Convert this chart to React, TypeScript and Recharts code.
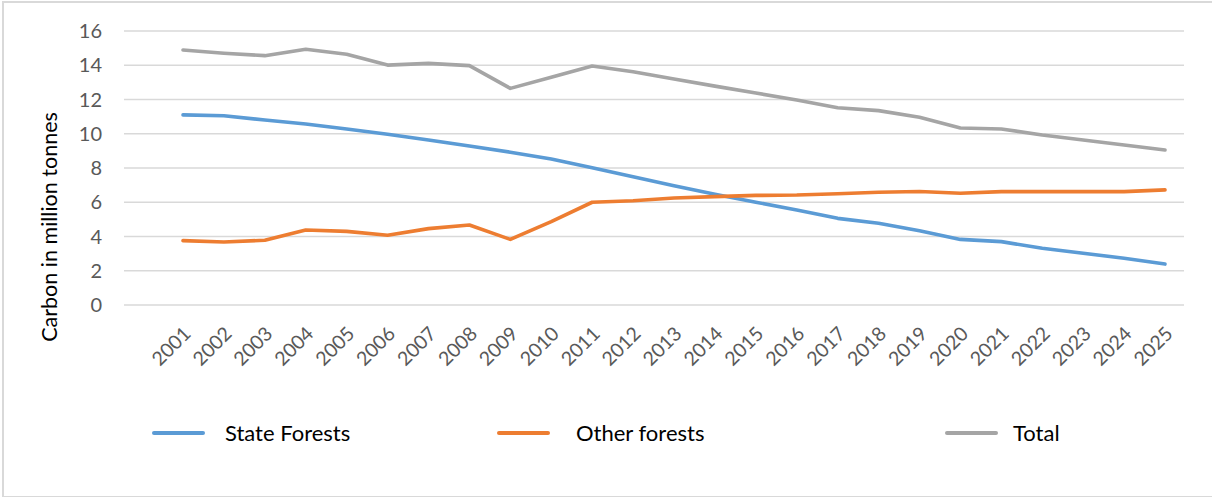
import {CartesianGrid, Line, LineChart, XAxis, YAxis} from 'recharts';

const years = [
    '2001', '2002', '2003', '2004', '2005', '2006', '2007', '2008', '2009', '2010', '2011', '2012', '2013',
    '2014', '2015', '2016', '2017', '2018', '2019', '2020', '2021', '2022', '2023', '2024', '2025',
];

const stateForests = [
    11.1, 11.05, 10.8, 10.57, 10.28, 9.97, 9.64, 9.28, 8.92, 8.53, 8.02, 7.49, 6.97,
    6.47, 6.0, 5.55, 5.06, 4.77, 4.34, 3.83, 3.7, 3.31, 3.02, 2.73, 2.39,
];

const otherForests = [
    3.76, 3.68, 3.78, 4.38, 4.3, 4.07, 4.46, 4.67, 3.83, 4.87, 6.0, 6.09, 6.25,
    6.33, 6.4, 6.42, 6.5, 6.58, 6.63, 6.53, 6.62, 6.62, 6.62, 6.62, 6.72,
];

const totals = [
    14.89, 14.7, 14.56, 14.93, 14.64, 14.01, 14.11, 13.98, 12.65, 13.3, 13.96, 13.62, 13.2,
    12.78, 12.38, 11.97, 11.52, 11.35, 10.96, 10.34, 10.28, 9.93, 9.64, 9.34, 9.05,
];

const yTicks = [0, 2, 4, 6, 8, 10, 12, 14, 16];

const seriesNames = ['State Forests', 'Other forests', 'Total'];
const seriesKeys = ['state', 'other', 'total'];
const seriesColors = ['#5B9BD5', '#ED7D31', '#A5A5A5'];

const data = years.map((year, i) => ({
    year,
    state: stateForests[i],
    other: otherForests[i],
    total: totals[i],
}));

const FONT = 'Lato, "Open Sans", sans-serif';

function YearTick({x, y, payload}: any) {
    const ax = x + 9;
    const ay = y + 30;
    return (
        <text x={ax} y={ay} textAnchor="end" fill="#595959" fontSize={19.5} fontFamily={FONT}
              transform={`rotate(-45, ${ax}, ${ay})`}>
            {payload.value}
        </text>
    );
}

// legend slots: line icon left edge and label left edge
const legendIconX = [152, 497, 945];
const legendTextX = [225, 576, 1013];

function ChartLegend() {
    return (
        <div style={{position: 'absolute', left: 0, top: 420, width: 1212, height: 26}}>
            {seriesNames.map((name, i) => (
                <div key={name}>
                    <div style={{
                        position: 'absolute', left: legendIconX[i], top: 11, width: 53, height: 4,
                        borderRadius: 2, background: seriesColors[i],
                    }}/>
                    <div style={{
                        position: 'absolute', left: legendTextX[i], top: 0, lineHeight: '26px',
                        fontSize: 22, fontFamily: FONT, color: '#000', whiteSpace: 'nowrap',
                    }}>{name}</div>
                </div>
            ))}
        </div>
    );
}

export default function App() {
    return (
        <div style={{
            position: 'absolute', left: 0, top: 0, width: 1212, height: 497,
            background: '#fff', overflow: 'hidden',
        }}>
            <div style={{
                position: 'absolute', left: 2, top: 1, width: 1230, height: 493,
                border: '2px solid #D9D9D9', boxSizing: 'content-box',
            }}/>
            <div style={{
                position: 'absolute', left: 49, top: 227, transform: 'translate(-50%, -50%) rotate(-90deg)',
                fontSize: 21.5, fontFamily: FONT, color: '#000', whiteSpace: 'nowrap', lineHeight: '24px',
            }}>Carbon in million tonnes
            </div>
            <div style={{position: 'absolute', left: 0, top: 0}}>
                <LineChart width={1212} height={497} data={data}
                           margin={{top: 31, right: 28, left: 64, bottom: 132}}>
                    <CartesianGrid vertical={false} stroke="#D9D9D9" strokeWidth={1.3}/>
                    <XAxis dataKey="year" scale="point" padding={{left: 59, right: 19}} axisLine={false}
                           tickLine={false} tickSize={0} tickMargin={0} height={60} interval={0}
                           tick={<YearTick/>}/>
                    <YAxis domain={[0, 16]} ticks={yTicks} axisLine={false} tickLine={false} tickSize={0}
                           tickMargin={22} width={60}
                           tick={{fill: '#595959', fontSize: 20, fontFamily: FONT}}/>
                    {seriesKeys.map((key, i) => (
                        <Line key={key} type="linear" dataKey={key} name={seriesNames[i]} stroke={seriesColors[i]}
                              strokeWidth={3.6} strokeLinecap="round" strokeLinejoin="round" dot={false}
                              activeDot={false} isAnimationActive={false}/>
                    ))}
                </LineChart>
            </div>
            <ChartLegend/>
        </div>
    );
}
